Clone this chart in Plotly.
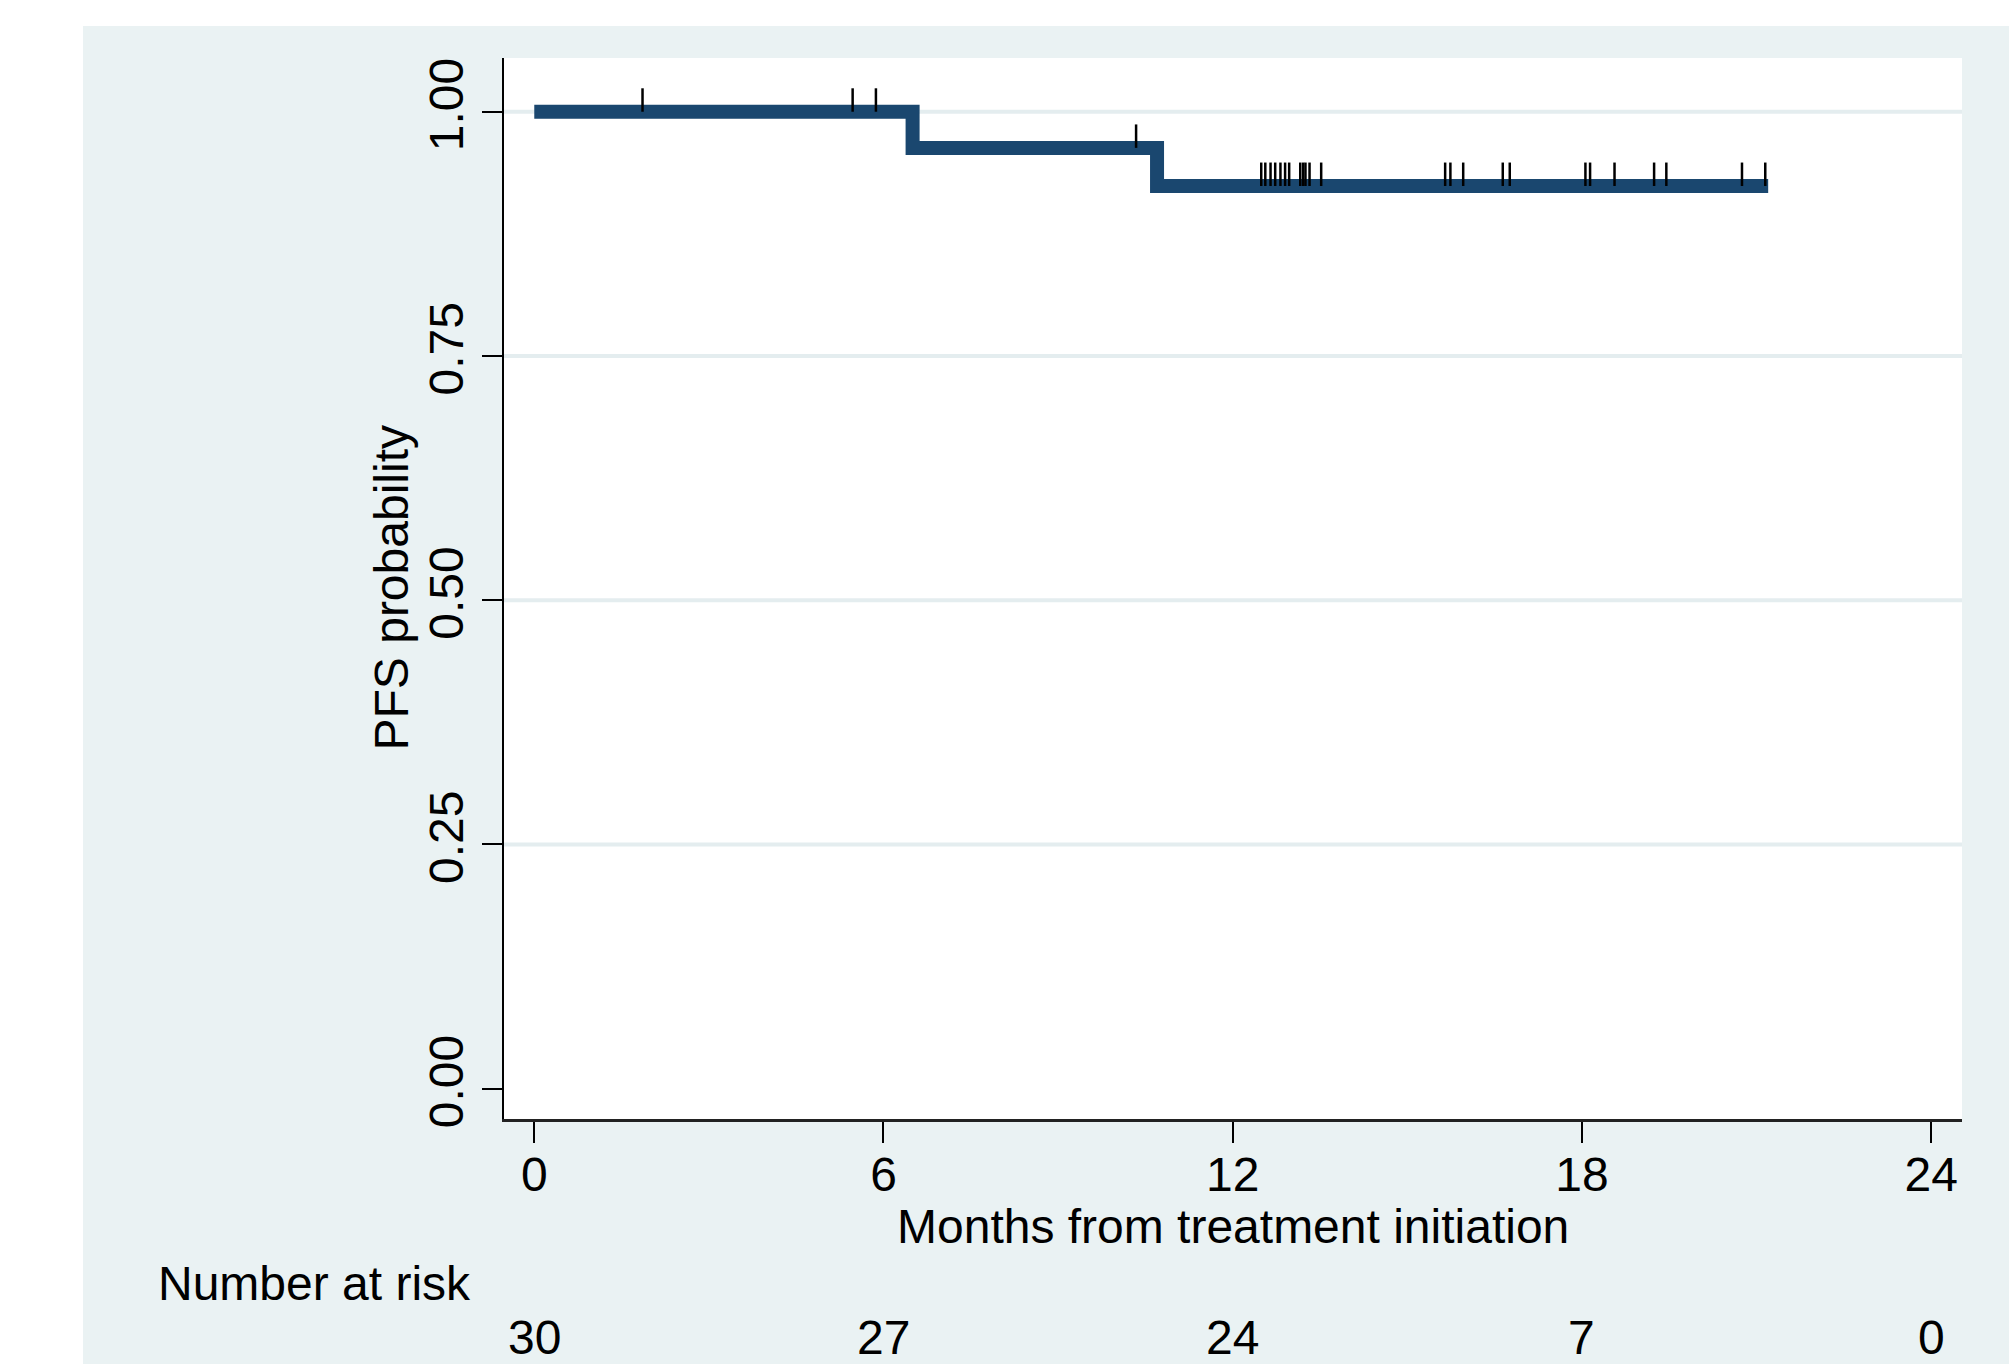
import numpy as np
import plotly.graph_objects as go

# ---- data ----
step_times = [0.0, 6.5, 10.7, 21.2]
step_surv = [1.0, 0.963, 0.924, 0.924]

censor_times = [1.86, 5.47, 5.87, 10.34,
                12.49, 12.56, 12.65, 12.73, 12.82, 12.90, 12.97,
                13.16, 13.21, 13.25, 13.32, 13.52,
                15.65, 15.74, 15.96, 16.64, 16.76,
                18.06, 18.14, 18.56, 19.24, 19.45, 20.75, 21.15]

x_ticks = [0, 6, 12, 18, 24]
x_tick_labels = ["0", "6", "12", "18", "24"]
y_ticks = [0.0, 0.25, 0.5, 0.75, 1.0]
y_tick_labels = ["0.00", "0.25", "0.50", "0.75", "1.00"]
grid_vals = [0.25, 0.5, 0.75, 1.0]
at_risk = [30, 27, 24, 7, 0]

FONT = "Liberation Sans, Arial, Helvetica, sans-serif"
FS = 48
NAVY = "#1a476f"
BG = "#eaf2f3"
GRID = "#e4edef"

W, H = 2009, 1364
ML, MR, MT, MB = 504, 47, 58, 245
PW = W - ML - MR
PH = H - MT - MB

def px_to_xpaper(px):
    return (px - ML) / PW

def py_to_ypaper(py):
    return (H - MB - py) / PH

fig = go.Figure()

# KM step curve
fig.add_trace(go.Scatter(
    x=step_times, y=step_surv, mode="lines", line_shape="hv",
    line=dict(color=NAVY, width=14), hoverinfo="skip", showlegend=False))

# censor marks (short vertical ticks above the curve)
idx = np.searchsorted(step_times, censor_times, side="right") - 1
cy = [step_surv[i] for i in idx]
cx_seg, cy_seg = [], []
for t, s in zip(censor_times, cy):
    cx_seg += [t, t, None]
    cy_seg += [s, s + 0.024, None]
fig.add_trace(go.Scatter(
    x=cx_seg, y=cy_seg, mode="lines",
    line=dict(color="black", width=2.5), hoverinfo="skip", showlegend=False))

shapes = []
# gridlines
for g in grid_vals:
    shapes.append(dict(type="line", xref="paper", yref="y", x0=0, x1=1, y0=g, y1=g,
                       line=dict(color=GRID, width=4), layer="below"))
# white strips outside the graph region (top and left)
shapes.append(dict(type="rect", xref="paper", yref="paper",
                   x0=-0.5, x1=1.2, y0=py_to_ypaper(26), y1=1.3,
                   fillcolor="white", line=dict(width=0), layer="below"))
shapes.append(dict(type="rect", xref="paper", yref="paper",
                   x0=-0.5, x1=px_to_xpaper(83), y0=-0.5, y1=1.3,
                   fillcolor="white", line=dict(width=0), layer="below"))

annotations = []
# x title
annotations.append(dict(text="Months from treatment initiation", xref="paper", yref="paper",
                        x=0.5, y=py_to_ypaper(1226), xanchor="center", yanchor="middle",
                        showarrow=False, font=dict(family=FONT, size=FS, color="black")))
# y title
annotations.append(dict(text="PFS probability", xref="paper", yref="paper",
                        x=px_to_xpaper(391), y=0.5, xanchor="center", yanchor="middle",
                        textangle=-90, showarrow=False,
                        font=dict(family=FONT, size=FS, color="black")))
# number at risk
annotations.append(dict(text="Number at risk", xref="paper", yref="paper",
                        x=px_to_xpaper(473), y=py_to_ypaper(1283), xanchor="right",
                        yanchor="middle", showarrow=False,
                        font=dict(family=FONT, size=FS, color="black")))
for t, n in zip(x_ticks, at_risk):
    annotations.append(dict(text=str(n), xref="x", yref="paper", x=t,
                            y=py_to_ypaper(1337), xanchor="center", yanchor="middle",
                            showarrow=False, font=dict(family=FONT, size=FS, color="black")))

fig.update_layout(
    width=W, height=H,
    margin=dict(l=ML, r=MR, t=MT, b=MB, pad=0),
    paper_bgcolor=BG, plot_bgcolor="white",
    font=dict(family=FONT, size=FS, color="black"),
    shapes=shapes, annotations=annotations,
    xaxis=dict(range=[-0.52, 24.53], tickvals=x_ticks, ticktext=x_tick_labels,
               showgrid=False, zeroline=False, showline=True, linecolor="#222222",
               linewidth=3, ticks="outside", ticklen=21, tickwidth=2, tickcolor="black",
               ticklabelstandoff=-10,
               tickfont=dict(family=FONT, size=FS, color="black")),
    yaxis=dict(range=[-0.031, 1.055], tickvals=y_ticks, ticktext=y_tick_labels,
               showgrid=False, zeroline=False, showline=True, linecolor="black",
               linewidth=2, ticks="outside", ticklen=20, tickwidth=2, tickcolor="black",
               tickangle=-90,
               tickfont=dict(family=FONT, size=FS, color="black")),
)

fig.write_html("out.html", config={"displayModeBar": False},
               post_script="document.body.style.margin='0';document.body.style.overflow='hidden';")
